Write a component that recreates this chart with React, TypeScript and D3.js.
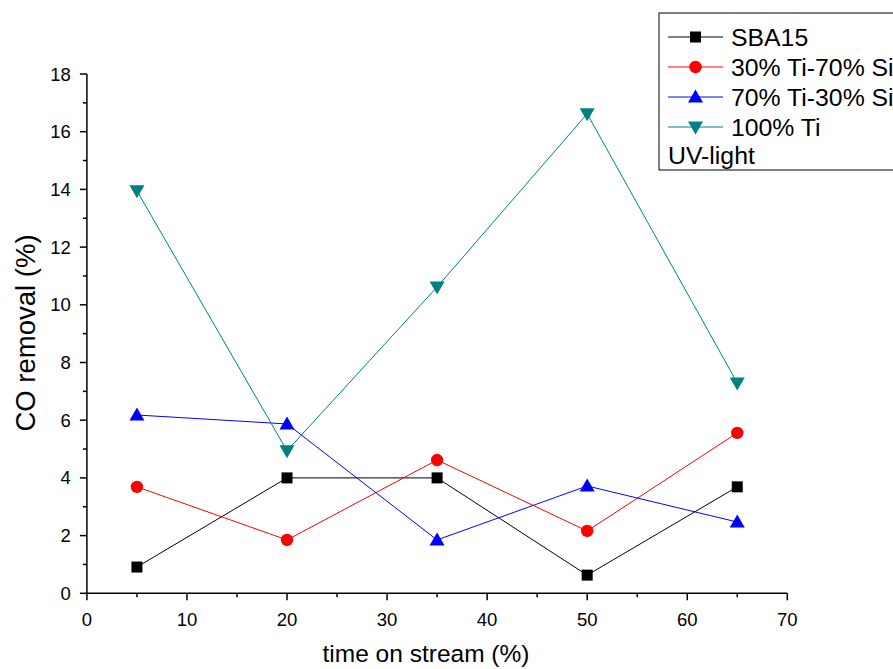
import React from "react";
import * as d3 from "d3";

const times = [5, 20, 35, 50, 65];
const sba15 = [0.91, 4.0, 4.0, 0.63, 3.69];
const ti30si70 = [3.69, 1.85, 4.62, 2.16, 5.56];
const ti70si30 = [6.18, 5.87, 1.85, 3.72, 2.47];
const ti100 = [13.95, 4.94, 10.62, 16.62, 7.29];
const seriesNames = ["SBA15", "30% Ti-70% Si", "70% Ti-30% Si", "100% Ti"];
const seriesColors = ["#000000", "#ff0000", "#0000ff", "#008080"];
const seriesMarkers = ["square", "circle", "triangle", "triangleDown"];
const xTicks = [0, 10, 20, 30, 40, 50, 60, 70];
const yTicks = [0, 2, 4, 6, 8, 10, 12, 14, 16, 18];

const W = 893, H = 669;
const x = d3.scaleLinear().domain([0, 70]).range([86.9, 787.3]);
const y = d3.scaleLinear().domain([0, 18]).range([593.3, 74]);
const FONT = "'Liberation Sans', Arial, sans-serif";

function Marker({ type, cx, cy, color }: { type: string; cx: number; cy: number; color: string }) {
  if (type === "square") return <rect x={cx - 5.5} y={cy - 5.5} width={11} height={11} fill={color} />;
  if (type === "circle") return <circle cx={cx} cy={cy} r={6.2} fill={color} />;
  if (type === "triangle")
    return <path d={`M${cx},${cy - 7.5}L${cx + 7.5},${cy + 5.5}L${cx - 7.5},${cy + 5.5}Z`} fill={color} />;
  return <path d={`M${cx},${cy + 7.5}L${cx + 7.5},${cy - 5.5}L${cx - 7.5},${cy - 5.5}Z`} fill={color} />;
}

export default function App() {
  const data = [sba15, ti30si70, ti70si30, ti100];
  const line = d3.line<number>().x((_, i) => x(times[i])).y((d) => y(d));
  const xMinor = d3.range(5, 70, 10);
  const yMinor = d3.range(1, 18, 2);
  const legendX = 659, legendY = 13;
  return (
    <svg width={W} height={H} style={{ position: "absolute", left: 0, top: 0, background: "#fff" }}>
      <rect width={W} height={H} fill="#fff" />
      <line x1={x(0)} x2={x(70)} y1={y(0)} y2={y(0)} stroke="#000" strokeWidth={1.5} />
      <line x1={x(0)} x2={x(0)} y1={y(0)} y2={y(18)} stroke="#000" strokeWidth={1.5} />
      {xTicks.map((t) => (
        <g key={"xt" + t}>
          <line x1={x(t)} x2={x(t)} y1={y(0)} y2={y(0) + 7} stroke="#000" strokeWidth={1.5} />
          <text x={x(t)} y={y(0) + 33} textAnchor="middle" fontFamily={FONT} fontSize={18.5}>{t}</text>
        </g>
      ))}
      {xMinor.map((t) => (
        <line key={"xm" + t} x1={x(t)} x2={x(t)} y1={y(0)} y2={y(0) + 4} stroke="#000" strokeWidth={1.5} />
      ))}
      {yTicks.map((t) => (
        <g key={"yt" + t}>
          <line x1={x(0) - 7} x2={x(0)} y1={y(t)} y2={y(t)} stroke="#000" strokeWidth={1.5} />
          <text x={x(0) - 16} y={y(t) + 6.5} textAnchor="end" fontFamily={FONT} fontSize={18.5}>{t}</text>
        </g>
      ))}
      {yMinor.map((t) => (
        <line key={"ym" + t} x1={x(0) - 4} x2={x(0)} y1={y(t)} y2={y(t)} stroke="#000" strokeWidth={1.5} />
      ))}
      <text x={426} y={662} textAnchor="middle" fontFamily={FONT} fontSize={24.5}>time on stream (%)</text>
      <text transform={`translate(35,${333}) rotate(-90)`} textAnchor="middle" fontFamily={FONT} fontSize={27.5}>CO removal (%)</text>
      {data.map((s, k) => (
        <g key={"s" + k}>
          <path d={line(s) || ""} fill="none" stroke={seriesColors[k]} strokeWidth={1} />
          {s.map((v, i) => (
            <Marker key={i} type={seriesMarkers[k]} cx={x(times[i])} cy={y(v)} color={seriesColors[k]} />
          ))}
        </g>
      ))}
      <rect x={legendX} y={legendY} width={260} height={157} fill="#fff" stroke="#000" strokeWidth={1} />
      {seriesNames.map((n, k) => {
        const ly = 37 + k * 30;
        return (
          <g key={"l" + k}>
            <line x1={668} x2={723} y1={ly} y2={ly} stroke={seriesColors[k]} strokeWidth={1} />
            <Marker type={seriesMarkers[k]} cx={695.5} cy={ly} color={seriesColors[k]} />
            <text x={731} y={ly + 8.5} fontFamily={FONT} fontSize={24.8}>{n}</text>
          </g>
        );
      })}
      <text x={668} y={164} fontFamily={FONT} fontSize={24.8}>UV-light</text>
    </svg>
  );
}
